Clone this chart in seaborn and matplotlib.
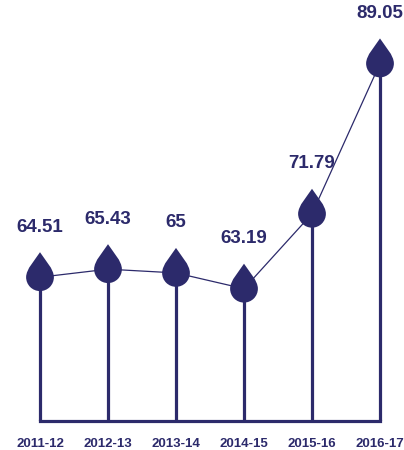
import matplotlib
matplotlib.use("Agg")
import matplotlib.pyplot as plt
from matplotlib.path import Path
import pandas as pd
import seaborn as sns

# Fiscal years and the plotted values
years = ["2011-12", "2012-13", "2013-14", "2014-15", "2015-16", "2016-17"]
values = [64.51, 65.43, 65.00, 63.19, 71.79, 89.05]
value_labels = ["64.51", "65.43", "65", "63.19", "71.79", "89.05"]

NAVY = "#2c2a6b"
BASE = 48.0          # value at the baseline of the stems
PX_PER_UNIT = 8.71   # vertical scale (pixels per value unit)
X_STEP = 68.0        # horizontal spacing between categories (pixels)


def drop_path():
    """Teardrop marker: round bottom centred on the data point, tip pointing up."""
    tip = (0.0, 1.8)
    arc = Path.arc(180, 360)
    verts = [tip, (-0.35, 1.25), (-1.0, 0.6), (-1.0, 0.0)]
    codes = [Path.MOVETO, Path.CURVE4, Path.CURVE4, Path.CURVE4]
    verts += [tuple(v) for v in arc.vertices[1:]]
    codes += list(arc.codes[1:])
    verts += [(1.0, 0.6), (0.35, 1.25), tip, tip]
    codes += [Path.CURVE4, Path.CURVE4, Path.CURVE4, Path.CLOSEPOLY]
    return Path(verts, codes)


df = pd.DataFrame({"year": years, "value": values, "label": value_labels})
df["pos"] = range(len(df))

sns.set_theme(style="white")
plt.rcParams["font.family"] = ["Liberation Sans", "DejaVu Sans"]

W, H = 404, 450
fig = plt.figure(figsize=(W / 100, H / 100), dpi=100)
base_px = 421  # baseline position from the top, pixels
ax = fig.add_axes([0, (H - base_px) / H, 1, base_px / H])
ax.set_xlim(-40 / X_STEP, (W - 40) / X_STEP)
ax.set_ylim(BASE, BASE + base_px / PX_PER_UNIT)

# stems
ax.vlines(df["pos"], BASE, df["value"], color=NAVY, lw=2.3, zorder=2)
# baseline
bl = ax.hlines(BASE, df["pos"].iloc[0], df["pos"].iloc[-1], color=NAVY, lw=2.3,
               zorder=2, clip_on=False)
bl.set_capstyle("projecting")

# connecting line
sns.lineplot(data=df, x="pos", y="value", color=NAVY, lw=0.9, ax=ax, zorder=3)

# drops
sns.scatterplot(data=df, x="pos", y="value", marker=drop_path(), s=36 ** 2,
                color=NAVY, edgecolor="none", linewidth=0, ax=ax, zorder=4)

# value labels
for _, r in df.iterrows():
    ax.annotate(r["label"], (r["pos"], r["value"]), xytext=(0, 36),
                textcoords="offset points", ha="center", va="center",
                fontsize=13.5, fontweight="bold", color=NAVY, zorder=5)

ax.set_xticks(df["pos"], years)
ax.tick_params(axis="x", length=0, pad=12, labelsize=9.5, labelcolor=NAVY)
for t in ax.get_xticklabels():
    t.set_fontweight("bold")
ax.set_yticks([])
ax.set_xlabel("")
ax.set_ylabel("")
sns.despine(ax=ax, left=True, bottom=True)

fig.savefig("out.png", dpi=100)
